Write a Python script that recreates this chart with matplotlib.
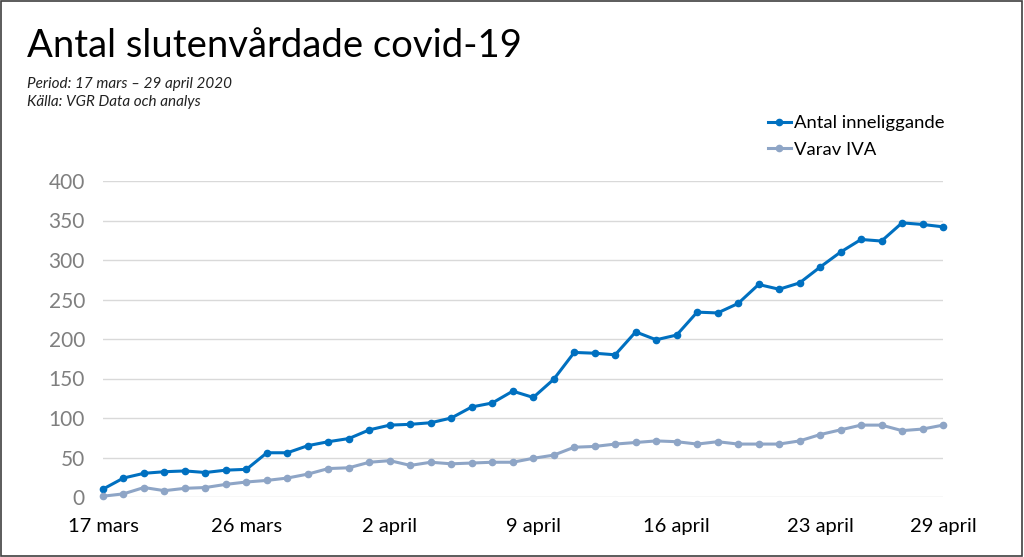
import matplotlib
matplotlib.use("Agg")
import matplotlib.pyplot as plt
from matplotlib.patches import Rectangle

inneliggande = [10, 24, 30, 32, 33, 31, 34, 35, 56, 56, 65, 70, 74, 85,
                91, 92, 94, 100, 114, 119, 134, 126, 149, 183, 182, 180, 209, 199,
                205, 234, 233, 245, 269, 263, 271, 291, 310, 326, 324, 347, 345, 342]
iva = [1, 4, 12, 8, 11, 12, 16, 19, 21, 24, 29, 36, 37, 44,
       46, 40, 44, 42, 43, 44, 44, 49, 53, 63, 64, 67, 69, 71,
       70, 67, 70, 67, 67, 67, 71, 79, 85, 91, 91, 84, 86, 91]
tick_positions = [0, 7, 14, 21, 28, 35, 41]
tick_labels = ["17 mars", "26 mars", "2 april", "9 april", "16 april", "23 april", "29 april"]
y_ticks = [0, 50, 100, 150, 200, 250, 300, 350, 400]

plt.rcParams['font.family'] = ['Lato', 'DejaVu Sans']

fig = plt.figure(figsize=(10.24, 5.57), dpi=100)
fig.patches.append(Rectangle((0.0005, 0.001), 0.998, 0.997, transform=fig.transFigure,
                             fill=False, edgecolor='#404040', linewidth=1.2))

ax = fig.add_axes([103/1024, 1-497/557, 840/1024, 316/557])
x = list(range(len(inneliggande)))
ax.plot(x, inneliggande, color='#0070C0', lw=2.2, marker='o', ms=4.5,
        label='Antal inneliggande', clip_on=False, zorder=3)
ax.plot(x, iva, color='#8EA5C6', lw=2.2, marker='o', ms=4.5,
        label='Varav IVA', clip_on=False, zorder=3)

ax.set_xlim(0, 41)
ax.set_ylim(0, 400)
ax.set_yticks(y_ticks)
ax.set_xticks(tick_positions)
ax.set_xticklabels(tick_labels)
ax.grid(axis='y', color='#d9d9d9', lw=1)
ax.set_axisbelow(True)
for s in ax.spines.values():
    s.set_visible(False)
ax.tick_params(axis='y', length=0, pad=13, labelsize=15, labelcolor='#7f7f7f')
ax.tick_params(axis='x', length=0, pad=15, labelsize=14.5, labelcolor='#000000')

leg = fig.legend(loc='upper left', bbox_to_anchor=(761/1024, 1-108/557), frameon=False,
                 fontsize=13.3, handlelength=1.2, handletextpad=0.2, labelspacing=0.55,
                 borderaxespad=0)

fig.text(27/1024, 1-46/557, "Antal slutenvårdade covid-19", fontsize=27.5, va='center',
         ha='left', color='#000000')
fig.text(27/1024, 1-84/557, "Period: 17 mars – 29 april 2020", fontsize=11, style='italic',
         va='center', ha='left', color='#222222')
fig.text(27/1024, 1-102/557, "Källa: VGR Data och analys", fontsize=11, style='italic',
         va='center', ha='left', color='#222222')

fig.savefig("out.png", dpi=100)
